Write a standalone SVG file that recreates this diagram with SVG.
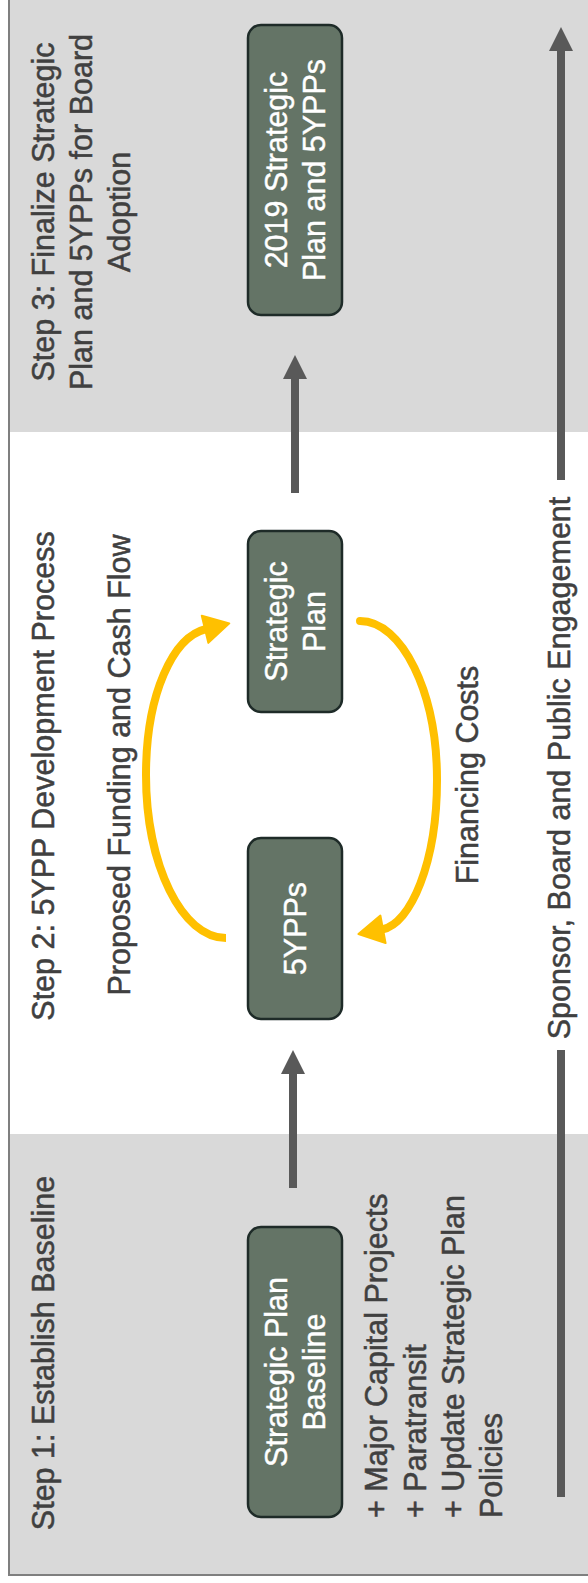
<svg xmlns="http://www.w3.org/2000/svg" width="588" height="1583" viewBox="0 0 588 1583">
  <style>
    .lbl { font-family: "Liberation Sans", Arial, sans-serif; font-size: 30.5px; fill: #404040; stroke: #404040; stroke-width: 0.5; }
    .ntx { font-family: "Liberation Sans", Arial, sans-serif; font-size: 30.5px; fill: #ffffff; stroke: #ffffff; stroke-width: 0.4; text-anchor: middle; }
    .box { fill: #647466; stroke: #1e2b28; stroke-width: 2.5; }
    .gray { stroke: #595959; stroke-width: 8; fill: none; }
    .gold { stroke: #ffc000; stroke-width: 8; fill: none; }
    .mid { text-anchor: middle; }
  </style>
  <defs>
    <marker id="ahGray" markerUnits="userSpaceOnUse" viewBox="0 -13 25 26" refX="1" refY="0" markerWidth="25" markerHeight="26" orient="auto">
      <path d="M0,-12 L24,0 L0,12 z" fill="#595959"/>
    </marker>
    <marker id="ahGold" markerUnits="userSpaceOnUse" viewBox="-2 -17 30 34" refX="1" refY="0" markerWidth="30" markerHeight="34" orient="auto">
      <path d="M0,-14 L25,0 L0,14 z" fill="#ffc000" stroke="#ffc000" stroke-width="2" stroke-linejoin="round"/>
    </marker>
  </defs>

  <g id="background">
    <rect x="9" y="0" width="590" height="432" fill="#d9d9d9"/>
    <rect x="9" y="1134" width="590" height="441" fill="#d9d9d9"/>
    <rect x="9" y="-10" width="600" height="1585" fill="none" stroke="#7f7f7f" stroke-width="2"/>
  </g>

  <g id="step3-label">
    <text class="lbl mid" transform="translate(54,212) rotate(-90)">Step 3: Finalize Strategic</text>
    <text class="lbl mid" transform="translate(92,212) rotate(-90)">Plan and 5YPPs for Board</text>
    <text class="lbl mid" transform="translate(130,212) rotate(-90)">Adoption</text>
  </g>
  <g id="step2-label">
    <text class="lbl mid" transform="translate(54,776) rotate(-90)">Step 2: 5YPP Development Process</text>
  </g>
  <g id="step1-label">
    <text class="lbl mid" transform="translate(54,1353) rotate(-90)">Step 1: Establish Baseline</text>
  </g>

  <g id="connectors">
    <line class="gray" x1="293" y1="1188" x2="293" y2="1073" marker-end="url(#ahGray)"/>
    <line class="gray" x1="295" y1="493" x2="295" y2="378" marker-end="url(#ahGray)"/>
    <line class="gray" x1="561" y1="480" x2="561" y2="50" marker-end="url(#ahGray)"/>
    <line class="gray" x1="561" y1="1497" x2="561" y2="1050"/>
    <path class="gold" d="M 226 938 C 182 938 146 865 146 775 C 146 694 173 637 206 629" marker-end="url(#ahGold)"/>
    <path class="gold" stroke-linecap="round" d="M 360 621 C 402 621 437 692 437 780 C 437 862 411 924 382 929.5" marker-end="url(#ahGold)"/>
  </g>

  <g id="label-funding">
    <text class="lbl mid" transform="translate(130,765) rotate(-90)">Proposed Funding and Cash Flow</text>
  </g>
  <g id="label-financing">
    <text class="lbl mid" transform="translate(478,775) rotate(-90)">Financing Costs</text>
  </g>
  <g id="label-engagement">
    <text class="lbl mid" transform="translate(570,768) rotate(-90)">Sponsor, Board and Public Engagement</text>
  </g>

  <g id="node-2019">
    <rect class="box" x="248" y="25" width="94" height="290" rx="13"/>
    <text class="ntx" transform="translate(287,170) rotate(-90)">2019 Strategic</text>
    <text class="ntx" transform="translate(325,170) rotate(-90)">Plan and 5YPPs</text>
  </g>
  <g id="node-strategic-plan">
    <rect class="box" x="248" y="531" width="94" height="181" rx="13"/>
    <text class="ntx" transform="translate(287,621.5) rotate(-90)">Strategic</text>
    <text class="ntx" transform="translate(325,621.5) rotate(-90)">Plan</text>
  </g>
  <g id="node-5ypps">
    <rect class="box" x="248" y="838" width="94" height="181" rx="13"/>
    <text class="ntx" transform="translate(306,928.5) rotate(-90)">5YPPs</text>
  </g>
  <g id="node-baseline">
    <rect class="box" x="248" y="1227" width="94" height="290" rx="13"/>
    <text class="ntx" transform="translate(287,1372) rotate(-90)">Strategic Plan</text>
    <text class="ntx" transform="translate(325,1372) rotate(-90)">Baseline</text>
  </g>
  <g id="baseline-items">
    <text class="lbl" transform="translate(387,1518) rotate(-90)">+ Major Capital Projects</text>
    <text class="lbl" transform="translate(426,1518) rotate(-90)">+ Paratransit</text>
    <text class="lbl" transform="translate(464,1518) rotate(-90)">+ Update Strategic Plan</text>
    <text class="lbl" transform="translate(502,1518) rotate(-90)">Policies</text>
  </g>
</svg>
